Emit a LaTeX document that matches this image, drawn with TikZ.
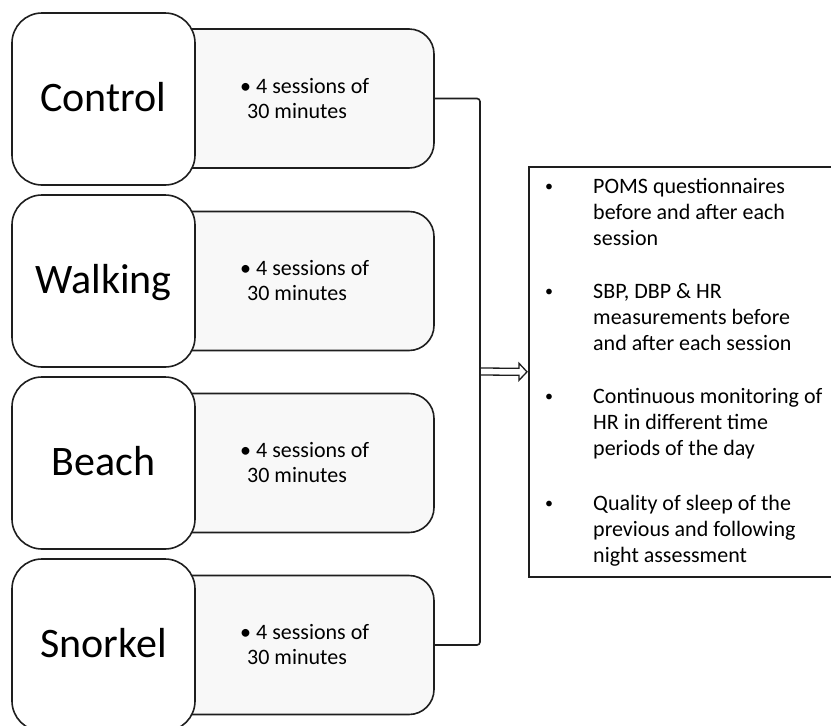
\documentclass[tikz,border=0pt]{standalone}
\usepackage{fontspec}
\setmainfont{Carlito}
\usetikzlibrary{calc}
\definecolor{ln}{HTML}{1E1E1E}
\definecolor{lightfill}{HTML}{F8F8F8}
\begin{document}
\begin{tikzpicture}[x=1pt,y=-1pt,
  group/.style={draw=ln, line width=1.6pt, fill=white, rounded corners=30pt,
    minimum width=183pt, minimum height=172pt, inner sep=0pt,
    font=\fontsize{42}{50}\selectfont, text height=30pt, text depth=6pt},
  detail/.style={draw=ln, line width=1.6pt, fill=lightfill, rounded corners=25pt,
    minimum width=284pt, minimum height=139pt, inner sep=0pt},
  dtext/.style={font=\fontsize{22}{26}\selectfont, anchor=base west, inner sep=0pt},
  otext/.style={font=\fontsize{22}{26}\selectfont, anchor=north west, inner sep=0pt, align=left},
  obullet/.style={font=\fontsize{16}{20}\selectfont, anchor=base, inner sep=0pt},
  bracket/.style={draw=ln, line width=1.6pt, rounded corners=3pt},
  fatarrow/.style={draw=ln, line width=1.3pt, fill=white, line join=miter},
  outbox/.style={draw=ln, line width=1.6pt, minimum width=400pt, minimum height=410pt, inner sep=0pt, anchor=north west}
]
\useasboundingbox (0,0) rectangle (831,726);
\clip (0,0) rectangle (831,726);
\fill[white] (0,0) rectangle (831,726);

% detail boxes (drawn first, partly hidden by the group boxes)
\foreach \n/\cy in {1/98.5, 2/281, 3/463, 4/645} {
  \node[detail] (d\n) at (292,\cy) {};
}
% group boxes
\foreach \n/\lab/\cy in {1/Control/99, 2/Walking/281, 3/Beach/463, 4/Snorkel/645} {
  \node[group] (g\n) at (103.5,\cy) {\lab};
  \node[dtext] (ta\n) at (240,\cy-6) {\textbullet\ 4 sessions of};
  \node[dtext] (tb\n) at (247,\cy+19.5) {30 minutes};
}

% bracket and arrow
\coordinate (jn) at (480,371.5);
\draw[bracket] (d1.east) -| (jn) |- (d4.east);

\node[outbox] (out) at (528,166) {};
\draw[fatarrow] ($(jn)+(1,-3.5)$) -- ($(out.west)+(-9,-3.5)$) -- ($(out.west)+(-9,-8.5)$)
  -- ($(out.west)+(-1,0)$) -- ($(out.west)+(-9,8.5)$) -- ($(out.west)+(-9,3.5)$)
  -- ($(jn)+(1,3.5)$);

% outcome list
\node[obullet] (b1) at (549,191) {\textbullet};
\node[otext] (o1) at (593,193-18.2) {\strut POMS questionnaires\\before and after each\\session};
\node[obullet] (b2) at (549,296) {\textbullet};
\node[otext] (o2) at (593,298-18.2) {\strut SBP, DBP \& HR\\measurements before\\and after each session};
\node[obullet] (b3) at (549,401) {\textbullet};
\node[otext] (o3) at (593,403-18.2) {\strut Continuous monitoring of\\HR in different time\\periods of the day};
\node[obullet] (b4) at (549,508) {\textbullet};
\node[otext] (o4) at (593,510-18.2) {\strut Quality of sleep of the\\previous and following\\night assessment};
\end{tikzpicture}
\end{document}
